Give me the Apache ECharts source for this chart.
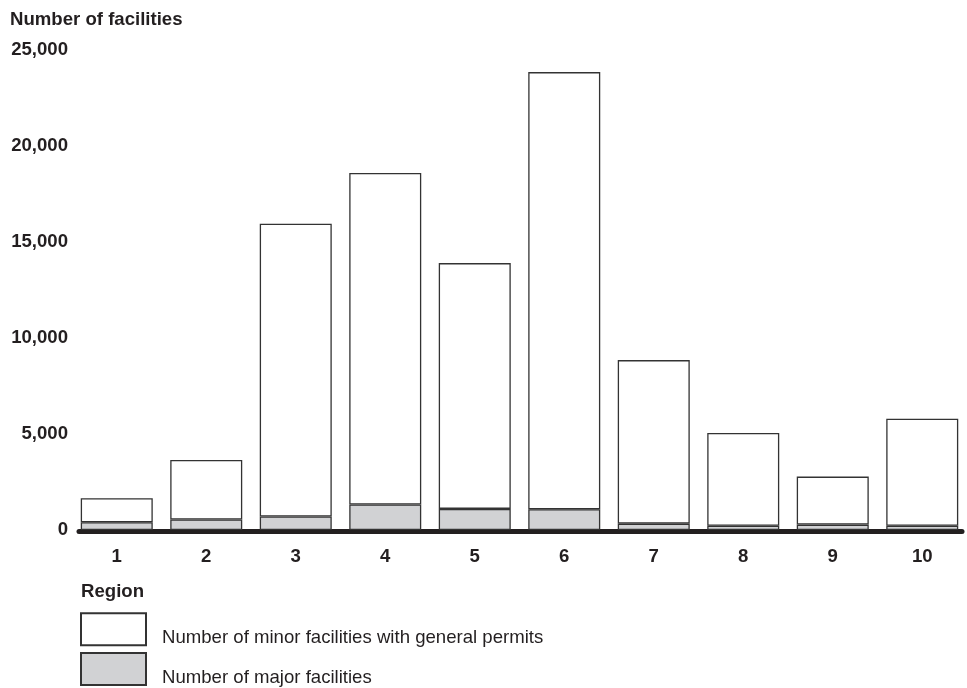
<!DOCTYPE html>
<html>
<head>
<meta charset="utf-8">
<script src="https://cdn.jsdelivr.net/npm/echarts@6/dist/echarts.min.js"></script>
<style>
html,body{margin:0;padding:0;background:#fff;}
#chart{width:967px;height:688px;}
</style>
</head>
<body>
<div id="chart"></div>
<script>
// Data
var regions = ['1','2','3','4','5','6','7','8','9','10'];
var majorFacilities = [400, 550, 700, 1330, 1100, 1080, 330, 225, 280, 225];
var barTotals = [1650, 3650, 15950, 18600, 13900, 23850, 8850, 5050, 2780, 5800];
var minorGeneralPermits = [1250, 3100, 15250, 17270, 12800, 22770, 8520, 4825, 2500, 5575];
var yTicks = [0, 5000, 10000, 15000, 20000, 25000];

var minorName = 'Number of minor facilities with general permits';
var majorName = 'Number of major facilities';
var font = 'Liberation Sans, Arial, Helvetica, sans-serif';
var ink = '#231f20';
var fs = 18.6;

var chart = echarts.init(document.getElementById('chart'), null, {renderer: 'canvas'});
chart.setOption({
  animation: false,
  backgroundColor: '#ffffff',
  title: [
    {text: 'Number of facilities', left: 5, top: 5,
     textStyle: {fontFamily: font, fontSize: fs, fontWeight: 'bold', color: ink}},
    {text: 'Region', left: 76, top: 577,
     textStyle: {fontFamily: font, fontSize: fs, fontWeight: 'bold', color: ink}}
  ],
  legend: {
    data: [minorName, majorName],
    orient: 'vertical',
    left: 80, top: 611,
    width: 600, height: 200,
    padding: 0,
    itemWidth: 65, itemHeight: 32, itemGap: 3.3,
    icon: 'rect',
    selectedMode: false,
    formatter: function (name) { return '\n' + name; },
    textStyle: {fontFamily: font, fontSize: fs, color: ink, lineHeight: 17.5, padding: [0, 0, 0, 11]}
  },
  grid: [
    {left: 72, right: -1, top: 50, bottom: 158, containLabel: false},
    {left: 79, right: 5, top: 50, bottom: 156.5, containLabel: false}
  ],
  xAxis: [
    {type: 'category', data: regions, gridIndex: 0,
     axisLine: {show: false}, axisTick: {show: false},
     axisLabel: {margin: 17, fontFamily: font, fontSize: fs, fontWeight: 'bold', color: ink}},
    {type: 'category', data: regions, gridIndex: 1,
     axisLine: {show: true, lineStyle: {color: ink, width: 5}},
     axisTick: {show: false}, axisLabel: {show: false}, splitLine: {show: false}}
  ],
  yAxis: [
    {type: 'value', gridIndex: 0, min: yTicks[0], max: yTicks[yTicks.length - 1], interval: 5000,
     axisLine: {show: false}, axisTick: {show: false}, splitLine: {show: false},
     axisLabel: {margin: 4, fontFamily: font, fontSize: fs, fontWeight: 'bold', color: ink,
       formatter: function (v) { return v.toLocaleString('en-US'); }}},
    {type: 'value', gridIndex: 1, min: 0, max: 25000, show: false}
  ],
  series: [
    {name: majorName, type: 'bar', stack: 'f', xAxisIndex: 0, yAxisIndex: 0,
     data: majorFacilities, barWidth: 72,
     itemStyle: {color: '#d1d2d4', borderColor: '#333333', borderWidth: 1.3}},
    {name: minorName, type: 'bar', stack: 'f', xAxisIndex: 0, yAxisIndex: 0,
     data: minorGeneralPermits, barWidth: 72,
     itemStyle: {color: '#ffffff', borderColor: '#333333', borderWidth: 1.3}}
  ]
});
</script>
</body>
</html>
